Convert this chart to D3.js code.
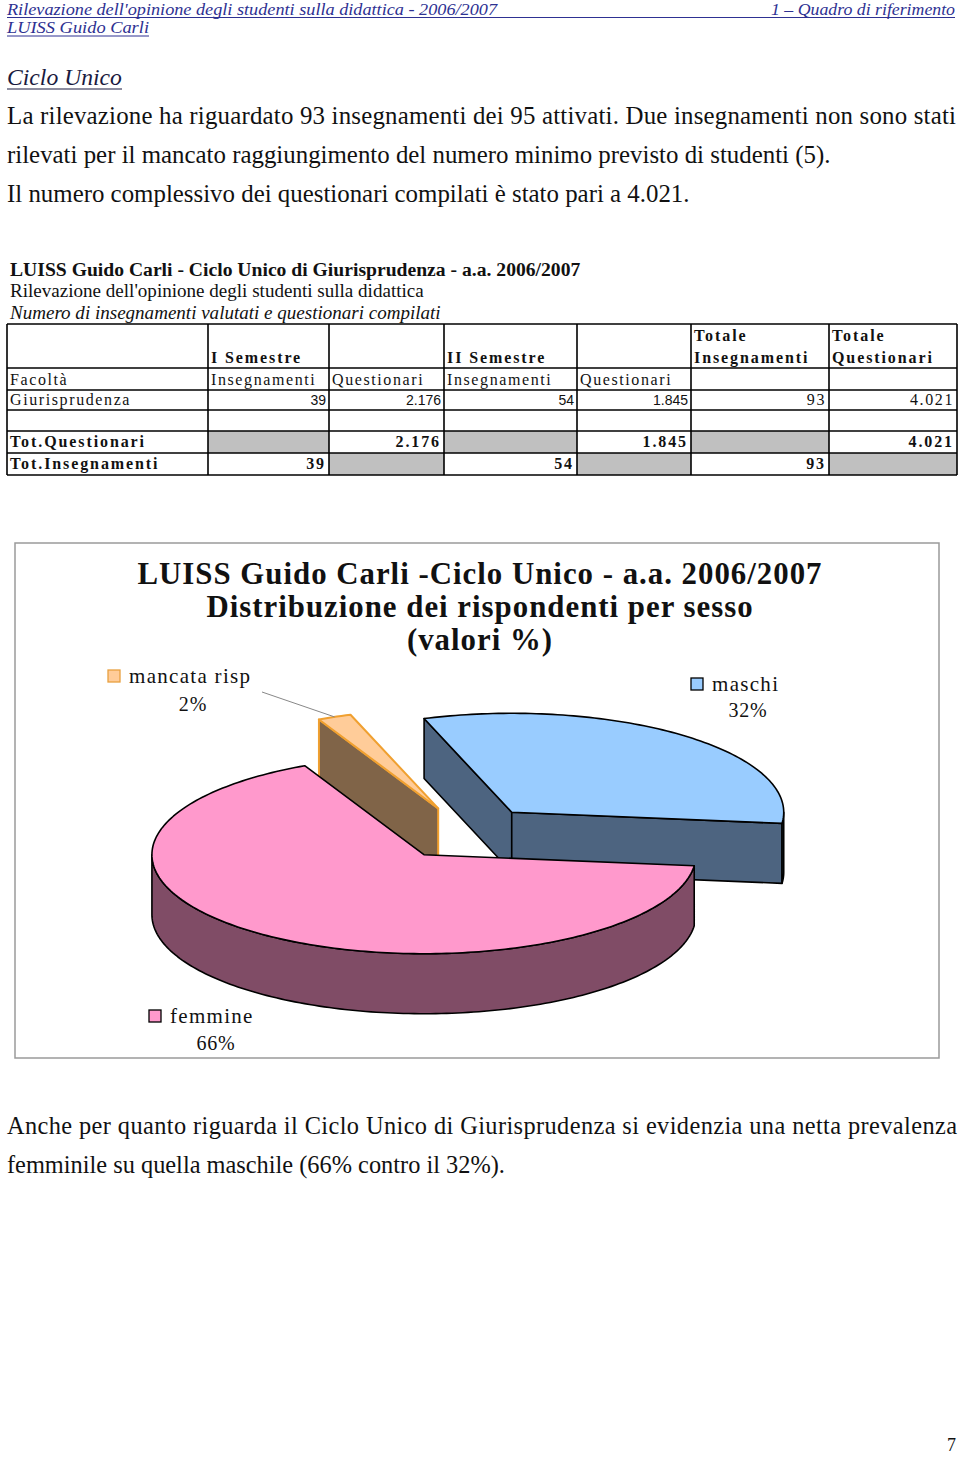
<!DOCTYPE html>
<html>
<head>
<meta charset="utf-8">
<script src="https://cdn.jsdelivr.net/npm/d3@7"></script>
<style>
  body { margin: 0; background: #fff; }
</style>
</head>
<body>
<div id="page"></div>
<script>
// ---- data ----
const sliceLabels = ["maschi", "femmine", "mancata risp"];
const slicePercent = [32, 66, 2];

const semestri = ["I Semestre", "II Semestre"];
const facolta = ["Giurisprudenza"];
const insegnamentiSem = [39, 54];
const questionariSem = [2176, 1845];
const totInsegnamenti = 93;
const totQuestionari = 4021;

const headerLeft = "Rilevazione dell'opinione degli studenti sulla didattica - 2006/2007";
const headerRight = "1 \u2013 Quadro di riferimento";
const headerSub = "LUISS Guido Carli";
const sectionTitle = "Ciclo Unico";
const introLines = [
    "La rilevazione ha riguardato 93 insegnamenti dei 95 attivati. Due insegnamenti non sono stati",
    "rilevati per il mancato raggiungimento  del numero minimo previsto di studenti (5).",
    "Il numero complessivo dei questionari compilati \u00e8 stato pari a 4.021."
];
const tableTitles = [
    "LUISS Guido Carli - Ciclo Unico di Giurisprudenza - a.a. 2006/2007",
    "Rilevazione dell'opinione degli studenti sulla didattica",
    "Numero di insegnamenti valutati e questionari compilati"
];
const chartTitle = [
    "LUISS Guido Carli -Ciclo Unico - a.a. 2006/2007",
    "Distribuzione dei rispondenti per sesso",
    "(valori %)"
];
const outroLines = [
    "Anche per quanto riguarda il Ciclo Unico di Giurisprudenza si evidenzia una netta prevalenza",
    "femminile su quella maschile (66% contro il 32%)."
];

// ---- setup ----
const W = 960, H = 1457;
const serif = "'Liberation Serif', 'Times New Roman', serif";
const sans = "'Liberation Sans', Arial, sans-serif";
const navy = "#2e3192";
const it = d3.formatLocale({ decimal: ",", thousands: ".", grouping: [3], currency: ["", "€"] });
const fmtNum = it.format(",d");
const fmtPct = d3.format(".0%");

const svg = d3.select("#page").append("svg")
    .attr("width", W)
    .attr("height", H)
    .attr("viewBox", [0, 0, W, H]);

svg.append("rect").attr("width", W).attr("height", H).attr("fill", "#fff");

// scale font-size so the text is exactly `target` px wide
function fit(sel, target) {
    const w = sel.node().getComputedTextLength();
    const fs = parseFloat(sel.attr("font-size"));
    sel.attr("font-size", fs * target / w);
    return fs * target / w;
}

// ---- running header (condensed italic) ----
function headerText(x, y, txt, len, anchor) {
    svg.append("text").attr("x", x).attr("y", y)
        .attr("text-anchor", anchor || "start")
        .attr("font-family", serif).attr("font-style", "italic").attr("font-size", 16)
        .attr("fill", navy)
        .attr("textLength", len).attr("lengthAdjust", "spacingAndGlyphs")
        .text(txt);
}
headerText(7, 15, headerLeft, 490);
headerText(955, 15, headerRight, 184, "end");
svg.append("line").attr("x1", 7).attr("x2", 955).attr("y1", 17.5).attr("y2", 17.5)
    .attr("stroke", navy).attr("stroke-width", 1);
headerText(7, 33, headerSub, 142);
svg.append("line").attr("x1", 7).attr("x2", 149).attr("y1", 36).attr("y2", 36)
    .attr("stroke", navy).attr("stroke-width", 1);

// ---- section heading + intro ----
const st = svg.append("text").attr("x", 7).attr("y", 85)
    .attr("font-family", serif).attr("font-style", "italic").attr("font-size", 22)
    .attr("fill", "#1a1a40").text(sectionTitle);
fit(st, 115);
svg.append("line").attr("x1", 7).attr("x2", 122).attr("y1", 89).attr("y2", 89)
    .attr("stroke", "#1a1a40").attr("stroke-width", 1.2);

const introY = [124, 163, 202];
const introText = svg.selectAll("text.intro").data(introLines).join("text")
    .attr("class", "intro")
    .attr("x", 7).attr("y", (d, i) => introY[i])
    .attr("font-family", serif).attr("font-size", 21).attr("fill", "#111")
    .text(d => d);
const introFs = fit(d3.select(introText.nodes()[2]), 683);
introText.attr("font-size", introFs);
d3.select(introText.nodes()[0]).attr("textLength", 949).attr("lengthAdjust", "spacing");

// ---- table ----
const tt = svg.selectAll("text.ttitle").data(tableTitles).join("text")
    .attr("class", "ttitle")
    .attr("x", 10).attr("y", (d, i) => [276, 297, 319][i])
    .attr("font-family", serif).attr("font-size", 15).attr("fill", "#111")
    .attr("font-weight", (d, i) => i === 0 ? "bold" : null)
    .attr("font-style", (d, i) => i === 2 ? "italic" : null)
    .text(d => d);
fit(d3.select(tt.nodes()[0]), 571);
fit(d3.select(tt.nodes()[1]), 414);
fit(d3.select(tt.nodes()[2]), 431);

const colX = [7, 208, 329, 444, 577, 691, 829, 957];
const rowY = [324, 368, 390, 410, 431, 453, 475];
const tbl = svg.append("g");

// grey cells for total rows
const greyCells = [[4, 1], [4, 3], [4, 5], [5, 2], [5, 4], [5, 6]];
tbl.selectAll("rect.grey").data(greyCells).join("rect")
    .attr("x", d => colX[d[1]]).attr("y", d => rowY[d[0]])
    .attr("width", d => colX[d[1] + 1] - colX[d[1]])
    .attr("height", d => rowY[d[0] + 1] - rowY[d[0]])
    .attr("fill", "#c0c0c0");

tbl.selectAll("line.h").data(rowY).join("line")
    .attr("x1", colX[0]).attr("x2", colX[colX.length - 1])
    .attr("y1", d => d).attr("y2", d => d)
    .attr("stroke", "#000").attr("stroke-width", 1.6);
tbl.selectAll("line.v").data(colX).join("line")
    .attr("y1", rowY[0]).attr("y2", rowY[rowY.length - 1])
    .attr("x1", d => d).attr("x2", d => d)
    .attr("stroke", "#000").attr("stroke-width", 1.6);

function cellText(txt, col, baseline, opts = {}) {
    const right = opts.right;
    tbl.append("text")
        .attr("x", right ? colX[col + 1] - 3 : colX[col] + 3)
        .attr("y", baseline)
        .attr("text-anchor", right ? "end" : "start")
        .attr("font-family", opts.sans ? sans : serif)
        .attr("font-size", opts.sans ? 14 : 16)
        .attr("font-weight", opts.bold ? "bold" : null)
        .attr("letter-spacing", opts.sans ? 0 : (opts.bold ? 1.9 : 1.6))
        .attr("fill", "#111")
        .text(txt);
}
// header rows
semestri.forEach((s, i) => cellText(s, 1 + i * 2, 363, { bold: true }));
cellText("Totale", 5, 341, { bold: true });
cellText("Insegnamenti", 5, 363, { bold: true });
cellText("Totale", 6, 341, { bold: true });
cellText("Questionari", 6, 363, { bold: true });
cellText("Facolt\u00e0", 0, 385);
semestri.forEach((s, i) => {
    cellText("Insegnamenti", 1 + i * 2, 385);
    cellText("Questionari", 2 + i * 2, 385);
});
// data row
cellText(facolta[0], 0, 405);
semestri.forEach((s, i) => {
    cellText(fmtNum(insegnamentiSem[i]), 1 + i * 2, 405, { right: true, sans: true });
    cellText(fmtNum(questionariSem[i]), 2 + i * 2, 405, { right: true, sans: true });
});
cellText(fmtNum(totInsegnamenti), 5, 405, { right: true });
cellText(fmtNum(totQuestionari), 6, 405, { right: true });
// totals
cellText("Tot.Questionari", 0, 447, { bold: true });
semestri.forEach((s, i) => cellText(fmtNum(questionariSem[i]), 2 + i * 2, 447, { right: true, bold: true }));
cellText(fmtNum(totQuestionari), 6, 447, { right: true, bold: true });
cellText("Tot.Insegnamenti", 0, 469, { bold: true });
semestri.forEach((s, i) => cellText(fmtNum(insegnamentiSem[i]), 1 + i * 2, 469, { right: true, bold: true }));
cellText(fmtNum(totInsegnamenti), 5, 469, { right: true, bold: true });

// ---- chart frame + title ----
svg.append("rect").attr("x", 15).attr("y", 543).attr("width", 924).attr("height", 515)
    .attr("fill", "#fff").attr("stroke", "#9a9a9a").attr("stroke-width", 1.5);

const ct = svg.selectAll("text.ctitle").data(chartTitle).join("text")
    .attr("class", "ctitle")
    .attr("x", 480).attr("y", (d, i) => [584, 617, 650][i])
    .attr("text-anchor", "middle")
    .attr("font-family", serif).attr("font-weight", "bold").attr("font-size", 27)
    .attr("letter-spacing", 1)
    .attr("fill", "#111").text(d => d);
const ctFs = fit(d3.select(ct.nodes()[0]), 692);
ct.attr("font-size", ctFs);

// ---- 3D exploded pie ----
const pieCx = 466, pieCy = 833;
const rx = 272, ry = 99, depth = 60, explode = 73;
const kY = ry / rx;

const topColor = d3.scaleOrdinal().domain(sliceLabels).range(["#99ccff", "#ff99cc", "#ffcc99"]);
const sideColor = d3.scaleOrdinal().domain(sliceLabels).range(["#4d6480", "#804c66", "#806448"]);
const edgeColor = d3.scaleOrdinal().domain(sliceLabels).range(["#000", "#000", "#f0a030"]);

const startDeg = -18.8;
const pie = d3.pie().sort(null)
    .startAngle(startDeg * Math.PI / 180)
    .endAngle(startDeg * Math.PI / 180 + 2 * Math.PI);

const arcs = pie(slicePercent).map((d, i) => {
    // convert d3's clockwise-from-12 angles to math angles
    const a0 = Math.PI / 2 - d.startAngle;
    const a1 = Math.PI / 2 - d.endAngle;
    const mid = (a0 + a1) / 2;
    const P = [pieCx + explode * Math.cos(mid), pieCy - explode * kY * Math.sin(mid)];
    return { label: sliceLabels[i], value: slicePercent[i], a0, a1, mid, P };
});

const ept = (P, t, dz = 0) => [P[0] + rx * Math.cos(t), P[1] - ry * Math.sin(t) + dz];
const arcPts = (P, from, to, dz) => {
    const n = Math.max(2, Math.ceil(Math.abs(to - from) / 0.02));
    return d3.range(n + 1).map(j => ept(P, from + (to - from) * j / n, dz));
};
const line = d3.line();

const pieG = svg.append("g").attr("stroke-linejoin", "round");
// back slices first
const order = arcs.slice().sort((a, b) => Math.sin(b.mid) - Math.sin(a.mid));

order.forEach(s => {
    const g = pieG.append("g");
    const P = s.P;
    const stroke = edgeColor(s.label);
    const sw = s.label === "mancata risp" ? 2 : 1.6;
    const face = t => [P, ept(P, t), ept(P, t, depth), [P[0], P[1] + depth]];

    // radial faces
    if (Math.cos(s.a0) < 0) {
        g.append("path").attr("d", line(face(s.a0)) + "Z")
            .attr("fill", sideColor(s.label)).attr("stroke", stroke).attr("stroke-width", sw);
    }
    if (Math.cos(s.a1) > 0) {
        g.append("path").attr("d", line(face(s.a1)) + "Z")
            .attr("fill", sideColor(s.label)).attr("stroke", stroke).attr("stroke-width", sw);
    }
    // outer rim, front half only
    [[-Math.PI, 0], [Math.PI, 2 * Math.PI], [-3 * Math.PI, -2 * Math.PI]].forEach(([lo, hi]) => {
        const a = Math.max(s.a1, lo), b = Math.min(s.a0, hi);
        if (a < b) {
            const pts = arcPts(P, a, b, 0).concat(arcPts(P, b, a, depth));
            g.append("path").attr("d", line(pts) + "Z")
                .attr("fill", sideColor(s.label)).attr("stroke", stroke).attr("stroke-width", sw);
        }
    });
    // top
    const topPts = [P].concat(arcPts(P, s.a0, s.a1, 0));
    g.append("path").attr("d", line(topPts) + "Z")
        .attr("fill", topColor(s.label)).attr("stroke", stroke).attr("stroke-width", sw);
});

// ---- data labels with legend keys ----
const labelPos = {
    "maschi": { key: [691, 678], pct: [748, 717] },
    "femmine": { key: [149, 1010], pct: [216, 1050] },
    "mancata risp": { key: [108, 670], pct: [193, 711] }
};
const lab = svg.append("g");
arcs.forEach(s => {
    const p = labelPos[s.label];
    lab.append("rect").attr("x", p.key[0]).attr("y", p.key[1]).attr("width", 12).attr("height", 12)
        .attr("fill", topColor(s.label))
        .attr("stroke", s.label === "mancata risp" ? "#e8a040" : "#000").attr("stroke-width", 1.3);
    lab.append("text").attr("x", p.key[0] + 21).attr("y", p.key[1] + 13)
        .attr("font-family", serif).attr("font-size", 21).attr("letter-spacing", 1.3)
        .attr("fill", "#111").text(s.label);
    lab.append("text").attr("x", p.pct[0]).attr("y", p.pct[1]).attr("text-anchor", "middle")
        .attr("font-family", serif).attr("font-size", 20).attr("letter-spacing", 0.8)
        .attr("fill", "#111").text(fmtPct(s.value / 100));
});
// leader line for the small slice
const small = arcs.find(s => s.label === "mancata risp");
const tip = ept(small.P, small.mid);
lab.append("line").attr("x1", 262).attr("y1", 692).attr("x2", tip[0]).attr("y2", tip[1])
    .attr("stroke", "#888").attr("stroke-width", 1);

// ---- closing paragraph + page number ----
const outY = [1134, 1173];
const outText = svg.selectAll("text.outro").data(outroLines).join("text")
    .attr("class", "outro")
    .attr("x", 7).attr("y", (d, i) => outY[i])
    .attr("font-family", serif).attr("font-size", 21).attr("fill", "#111")
    .text(d => d);
const outFs = fit(d3.select(outText.nodes()[1]), 498);
outText.attr("font-size", outFs);
d3.select(outText.nodes()[0]).attr("textLength", 950).attr("lengthAdjust", "spacing");

svg.append("text").attr("x", 956).attr("y", 1451).attr("text-anchor", "end")
    .attr("font-family", serif).attr("font-size", 18).attr("fill", "#111").text("7");
</script>
</body>
</html>
